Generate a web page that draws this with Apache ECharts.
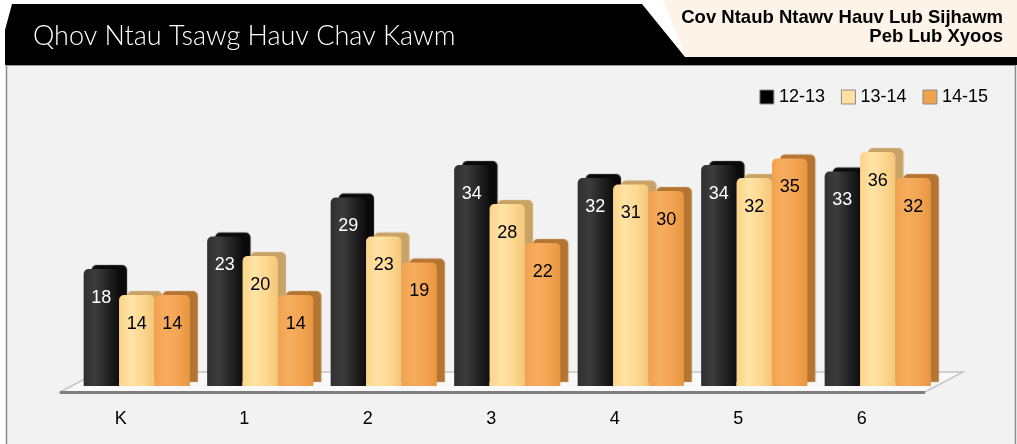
<!DOCTYPE html>
<html>
<head>
<meta charset="utf-8">
<script src="https://cdn.jsdelivr.net/npm/echarts@6/dist/echarts.min.js"></script>
<style>
  html, body { margin: 0; padding: 0; background: #ffffff; }
  #chart { width: 1017px; height: 444px; }
</style>
</head>
<body>
<div id="chart"></div>
<script>
// ---- data ----
const categories = ['K', '1', '2', '3', '4', '5', '6'];
const seriesNames = ['12-13', '13-14', '14-15'];
const values1213 = [18, 23, 29, 34, 32, 34, 33];
const values1314 = [14, 20, 23, 28, 31, 32, 36];
const values1415 = [14, 14, 19, 22, 30, 35, 32];
const titleText = 'Qhov Ntau Tsawg Hauv Chav Kawm';
const subtitleLines = ['Cov Ntaub Ntawv Hauv Lub Sijhawm', 'Peb Lub Xyoos'];

const chart = echarts.init(document.getElementById('chart'), null, { renderer: 'canvas' });

function grad(stops) {
  return new echarts.graphic.LinearGradient(0, 0, 1, 0, stops.map((c, i) => ({ offset: i / (stops.length - 1), color: c })));
}

const styles = [
  { fill: grad(['#303030', '#3c3c3c', '#242424', '#0e0e0e']), side: '#0a0a0a', label: '#ffffff', legend: '#000000' },
  { fill: grad(['#fcd488', '#ffe3a6', '#fdd890', '#f2c679']), side: '#c9a266', label: '#000000', legend: '#fde0a2' },
  { fill: grad(['#f1a24f', '#f7ad5e', '#f2a452', '#e8963f']), side: '#b57532', label: '#000000', legend: '#f0a24c' }
];
const dataSets = [values1213, values1314, values1415];

const labelFont = '"Liberation Sans", Arial, Helvetica, sans-serif';

const series = dataSets.map((d, i) => ({
  name: seriesNames[i],
  type: 'bar',
  xAxisIndex: 0,
  yAxisIndex: 0,
  data: d,
  barGap: '0%',
  barCategoryGap: '14%',
  z: 3,
  itemStyle: {
    color: styles[i].fill,
    borderRadius: [5, 5, 0, 0],
    shadowColor: styles[i].side,
    shadowBlur: 1,
    shadowOffsetX: 8,
    shadowOffsetY: -4
  },
  label: {
    show: true,
    position: 'insideTop',
    distance: 20,
    color: styles[i].label,
    fontSize: 18,
    fontFamily: labelFont
  },
  emphasis: { disabled: true }
}));

const option = {
  animation: false,
  backgroundColor: '#ffffff',
  legend: {
    data: seriesNames.map((n, i) => ({ name: n, itemStyle: { color: styles[i].legend, borderColor: '#8a8a8a', borderWidth: 1, shadowBlur: 0, shadowOffsetX: 0, shadowOffsetY: 0 } })),
    right: 24,
    top: 83,
    itemWidth: 14,
    itemHeight: 14,
    itemGap: 16,
    icon: 'rect',
    textStyle: { fontSize: 18, color: '#000', fontFamily: labelFont },
    selectedMode: false
  },
  grid: [
    { left: 75, right: 77.5, top: 126, bottom: 58 },
    { left: 59, right: 93.5, top: 126, bottom: 58 }
  ],
  xAxis: [
    {
      type: 'category', gridIndex: 0, data: categories,
      axisLine: { show: false }, axisTick: { show: false }, axisLabel: { show: false }
    },
    {
      type: 'category', gridIndex: 1, data: categories,
      axisLine: { show: false }, axisTick: { show: false },
      axisLabel: { show: true, margin: 24, fontSize: 18, color: '#000', fontFamily: labelFont }
    }
  ],
  yAxis: [
    { type: 'value', gridIndex: 0, min: 0, max: 40, interval: 10, show: false, splitLine: { show: false } },
    { type: 'value', gridIndex: 1, min: 0, max: 40, interval: 10, show: false, splitLine: { show: false } }
  ],
  graphic: [
    // chart panel background
    { type: 'rect', z: 0, shape: { x: 6, y: 65, width: 1010, height: 380 }, style: { fill: '#f2f2f2' } },
    { type: 'line', z: 1, shape: { x1: 6.5, y1: 65, x2: 6.5, y2: 444 }, style: { stroke: '#8c8c8c', lineWidth: 1.5 } },
    { type: 'line', z: 1, shape: { x1: 1015.5, y1: 65, x2: 1015.5, y2: 444 }, style: { stroke: '#8c8c8c', lineWidth: 1.5 } },
    // header
    { type: 'polygon', z: 1, shape: { points: [[663, 0], [1017, 0], [1017, 57], [686, 57]] }, style: { fill: '#fcf4e8' } },
    { type: 'polygon', z: 1, shape: { points: [[12, 4], [642, 4], [685, 57], [1017, 57], [1017, 65], [5, 65], [5, 30]] }, style: { fill: '#000000' } },
    { type: 'line', z: 1, shape: { x1: 6, y1: 65.5, x2: 1016, y2: 65.5 }, style: { stroke: '#9a9a9a', lineWidth: 1 } },
    { type: 'text', z: 2, x: 33, y: 36, style: { text: titleText, fill: '#ffffff', font: '300 27px Lato, "Open Sans", "DejaVu Sans", sans-serif', verticalAlign: 'middle', align: 'left' } },
    { type: 'text', z: 2, x: 1003, y: 18, style: { text: subtitleLines[0], fill: '#000000', font: 'bold 18.5px ' + labelFont, verticalAlign: 'middle', align: 'right' } },
    { type: 'text', z: 2, x: 1003, y: 37, style: { text: subtitleLines[1], fill: '#000000', font: 'bold 18.5px ' + labelFont, verticalAlign: 'middle', align: 'right' } },
    // floor plate
    { type: 'polygon', z: 1, shape: { points: [[60, 392], [925, 392], [963, 372], [98, 372]] }, style: { fill: '#f9f9f9', stroke: '#c4c4c4', lineWidth: 1.5 } },
    { type: 'line', z: 1, shape: { x1: 60, y1: 392.5, x2: 925, y2: 392.5 }, style: { stroke: '#7f7f7f', lineWidth: 3 } }
  ],
  series: series
};

chart.setOption(option);
</script>
</body>
</html>
